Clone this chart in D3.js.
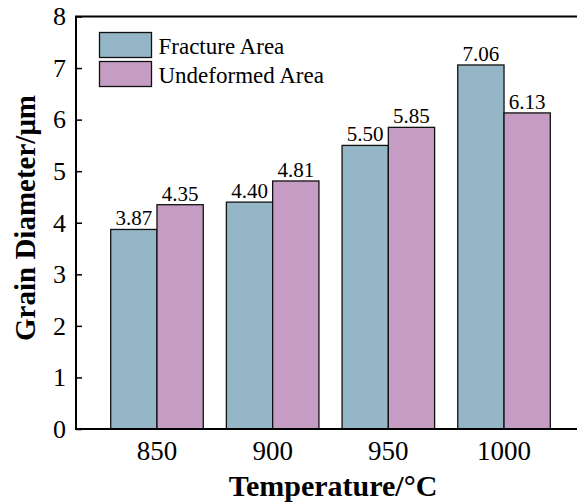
<!DOCTYPE html>
<html>
<head>
<meta charset="utf-8">
<script src="https://cdn.jsdelivr.net/npm/d3@7"></script>
<style>
	body { margin: 0; background: #fff; }
	svg { display: block; }
</style>
</head>
<body>
<div id="root"></div>
<script>
const temperatures = ['850', '900', '950', '1000']
const fractureArea = [3.87, 4.40, 5.50, 7.06]
const undeformedArea = [4.35, 4.81, 5.85, 6.13]
const seriesNames = ['Fracture Area', 'Undeformed Area']
const yTicks = [0, 1, 2, 3, 4, 5, 6, 7, 8]

const C = {
	width: 577,
	height: 503,
	left: 76,
	right: 585,
	top: 16.5,
	bottom: 429,
	colors: ['#94b6c6', '#c59cc3'],
	font: "'Liberation Serif', 'Times New Roman', serif"
}

const svg = d3.select('#root').append('svg')
	.attr('width', C.width)
	.attr('height', C.height)
	.style('font-family', C.font)

const x = d3.scaleBand()
	.domain(temperatures)
	.range([C.left, C.right])
	.paddingInner(0.2)
	.paddingOuter(0.3)

const xSub = d3.scaleBand()
	.domain(seriesNames)
	.range([0, x.bandwidth()])

const y = d3.scaleLinear()
	.domain([0, 8])
	.range([C.bottom, C.top])

const rows = temperatures.map((t, i) => ({
	t,
	values: [fractureArea[i], undeformedArea[i]]
}))

// bars
const groups = svg.selectAll('.group')
	.data(rows)
	.enter()
	.append('g')
	.attr('class', 'group')
	.attr('transform', d => `translate(${x(d.t)},0)`)

groups.selectAll('rect')
	.data(d => d.values.map((v, j) => ({ name: seriesNames[j], v, j })))
	.enter()
	.append('rect')
	.attr('x', d => xSub(d.name))
	.attr('y', d => y(d.v))
	.attr('width', xSub.bandwidth())
	.attr('height', d => y(0) - y(d.v))
	.attr('fill', d => C.colors[d.j])
	.attr('stroke', '#111')
	.attr('stroke-width', 1.3)

groups.selectAll('.val')
	.data(d => d.values.map((v, j) => ({ name: seriesNames[j], v })))
	.enter()
	.append('text')
	.attr('class', 'val')
	.attr('x', d => xSub(d.name) + xSub.bandwidth() / 2)
	.attr('y', d => y(d.v) - 4)
	.attr('text-anchor', 'middle')
	.attr('font-size', '21px')
	.text(d => d.v.toFixed(2))

// axes
const axisY = d3.axisLeft(y)
	.tickValues(yTicks)
	.tickSize(-6)
	.tickPadding(10)

const gy = svg.append('g')
	.attr('transform', `translate(${C.left},0)`)
	.call(axisY)
gy.select('.domain').remove()
gy.selectAll('line').attr('stroke', '#000').attr('stroke-width', 1.5)
gy.selectAll('text')
	.attr('font-size', '26px')
	.attr('font-family', C.font)
	.attr('fill', '#000')

const axisX = d3.axisBottom(x)
	.tickSize(0)

const gx = svg.append('g')
	.attr('transform', `translate(0,${C.bottom})`)
	.call(axisX)
gx.select('.domain').remove()
gx.selectAll('text')
	.attr('font-size', '27px')
	.attr('font-family', C.font)
	.attr('fill', '#000')
	.attr('y', 31)
	.attr('dy', 0)

// frame
svg.append('rect')
	.attr('x', C.left)
	.attr('y', C.top)
	.attr('width', C.right - C.left)
	.attr('height', C.bottom - C.top)
	.attr('fill', 'none')
	.attr('stroke', '#000')
	.attr('stroke-width', 2)

// axis titles
svg.append('text')
	.attr('x', 333)
	.attr('y', 496)
	.attr('text-anchor', 'middle')
	.attr('font-size', '30px')
	.attr('font-weight', 'bold')
	.text('Temperature/°C')

svg.append('text')
	.attr('transform', `translate(35,218) rotate(-90)`)
	.attr('text-anchor', 'middle')
	.attr('font-size', '29px')
	.attr('font-weight', 'bold')
	.text('Grain Diameter/μm')

// legend
const legend = svg.append('g')
	.attr('transform', 'translate(99.5,32.5)')

const items = legend.selectAll('.item')
	.data(seriesNames)
	.enter()
	.append('g')
	.attr('class', 'item')
	.attr('transform', (d, i) => `translate(0,${i * 29})`)

items.append('rect')
	.attr('width', 52)
	.attr('height', 25)
	.attr('fill', (d, i) => C.colors[i])
	.attr('stroke', '#111')
	.attr('stroke-width', 1.3)

items.append('text')
	.attr('x', 59)
	.attr('y', 21)
	.attr('font-size', '23px')
	.text(d => d)
</script>
</body>
</html>
